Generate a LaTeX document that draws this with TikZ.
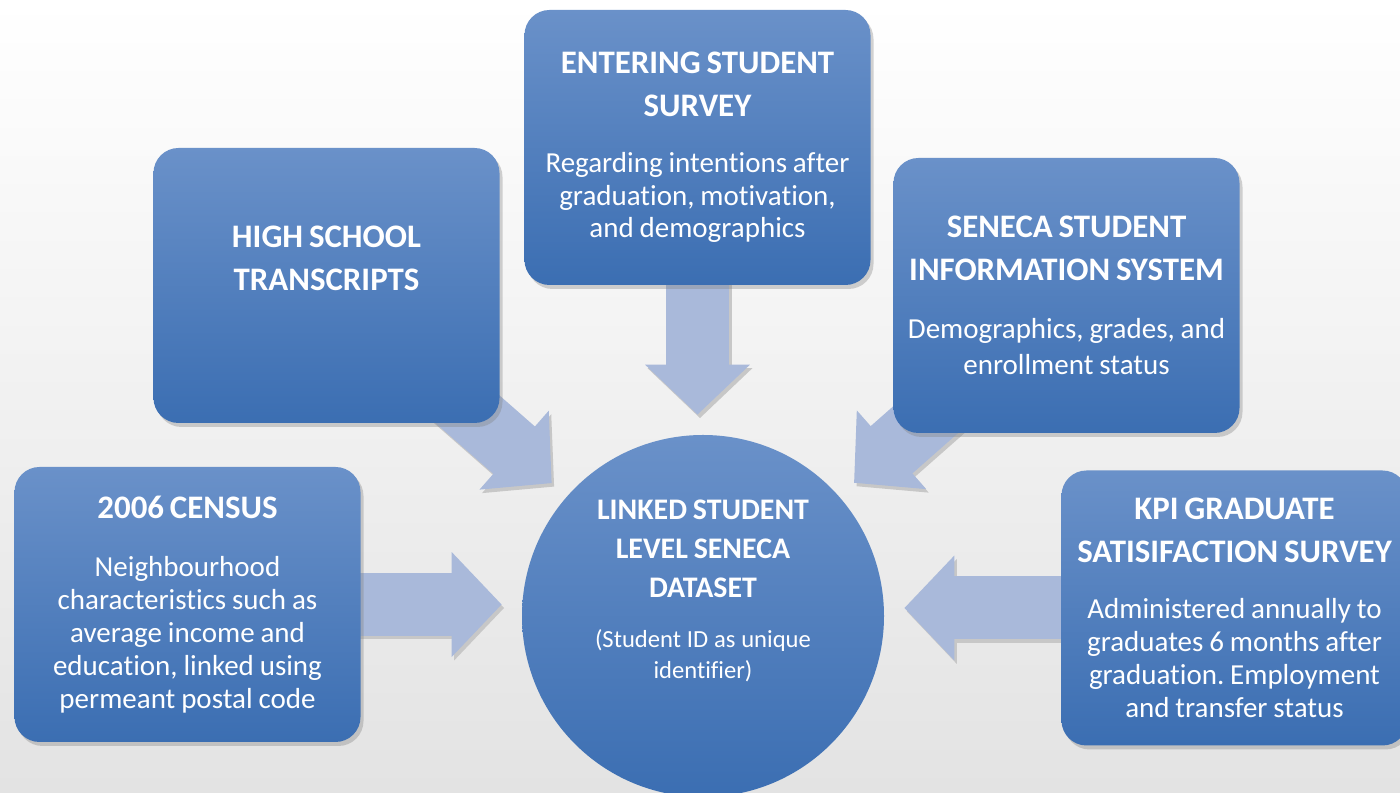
\documentclass[tikz,border=0pt]{standalone}
\usepackage{fontspec}
\setmainfont{Carlito}[Ligatures=NoCommon]
\usetikzlibrary{shadows,arrows.meta}
\definecolor{boxtop}{HTML}{6A91C9}
\definecolor{boxmid}{HTML}{4F81C2}
\definecolor{boxbot}{HTML}{3B6EB2}
\definecolor{flowblue}{HTML}{A9B9DA}
\newcommand{\boxtitle}{\fontsize{18.7}{24.4}\selectfont\bfseries}
\newcommand{\boxbody}{\fontsize{16.5}{18.7}\selectfont}
\newcommand{\hubtitle}{\fontsize{17}{22}\selectfont\bfseries}
\newcommand{\hubbody}{\fontsize{14}{17.6}\selectfont}
\frenchspacing
\pgfdeclarelayer{back}
\pgfdeclarelayer{flows}
\pgfsetlayers{back,flows,main}
\begin{document}
\begin{tikzpicture}[
    srcbox/.style={rounded corners=0.5cm, minimum width=6.92cm, minimum height=5.5cm,
        text width=6.8cm, inner sep=0.06cm, align=center, text=white,
        top color=boxtop, middle color=boxmid, bottom color=boxbot,
        drop shadow={shadow xshift=0.06cm, shadow yshift=-0.08cm, opacity=0.35}},
    linked/.style={circle, minimum size=7.24cm, text width=4.8cm, inner sep=0pt,
        align=center, text=white,
        top color=boxtop, middle color=boxmid, bottom color=boxbot},
    flow/.style={line width=1.26cm, draw=flowblue, shorten >=0.4cm,
        -{Triangle[width=2.04cm,length=1.0cm]}},
    flowshadow/.style={flow, draw=black!22, transform canvas={xshift=0.05cm,yshift=-0.07cm}}
]
    \useasboundingbox (0,0) rectangle (28,15.86);
    \begin{pgfonlayer}{back}
        \fill[top color=white, middle color=white!97!black, bottom color=black!11] (0,0) rectangle (28,15.86);
    \end{pgfonlayer}
    %% Sources
    \node[srcbox] (hs) at (6.53,10.15) {{\boxtitle HIGH SCHOOL\\TRANSCRIPTS\par}\vspace*{1.08cm}};
    \node[srcbox] (survey) at (13.95,12.91) {{\boxtitle ENTERING STUDENT\\SURVEY\par}\vspace{0.46cm}%
        {\boxbody Regarding intentions after\\graduation, motivation,\\and demographics\par}};
    \node[srcbox] (sis) at (21.33,9.95) {{\boxtitle SENECA STUDENT\\INFORMATION SYSTEM\par}\vspace{0.5cm}%
        {\boxbody Demographics, grades, and\\[0.08cm]enrollment status\par}};
    \node[srcbox] (census) at (3.75,3.77) {{\boxtitle 2006 CENSUS\par}\vspace{0.5cm}%
        {\boxbody Neighbourhood\\characteristics such as\\average income and\\education, linked using\\permeant postal code\par}};
    \node[srcbox] (kpi) at (24.69,3.7) {{\boxtitle KPI GRADUATE\\SATISIFACTION SURVEY\par}\vspace{0.46cm}%
        {\boxbody Administered annually to\\graduates 6 months after\\graduation. Employment\\and transfer status\par}};
    %% Linked dataset
    \node[linked] (hub) at (14.06,3.54) {{\hubtitle LINKED STUDENT\\LEVEL SENECA\\DATASET\par}\vspace{0.38cm}%
        {\hubbody (Student ID as unique\\identifier)\par}\vspace*{1cm}};
    %% Flows into the dataset
    \begin{pgfonlayer}{flows}
        \foreach \a/\b in {census.center/census.center -| hub.west, hs.center/hub,
                survey.center/survey.center |- hub.north, sis.center/hub, kpi.center/kpi.center -| hub.east}{
            \draw[flowshadow] (\a) -- (\b);
            \draw[flow] (\a) -- (\b);
        }
    \end{pgfonlayer}
\end{tikzpicture}
\end{document}
